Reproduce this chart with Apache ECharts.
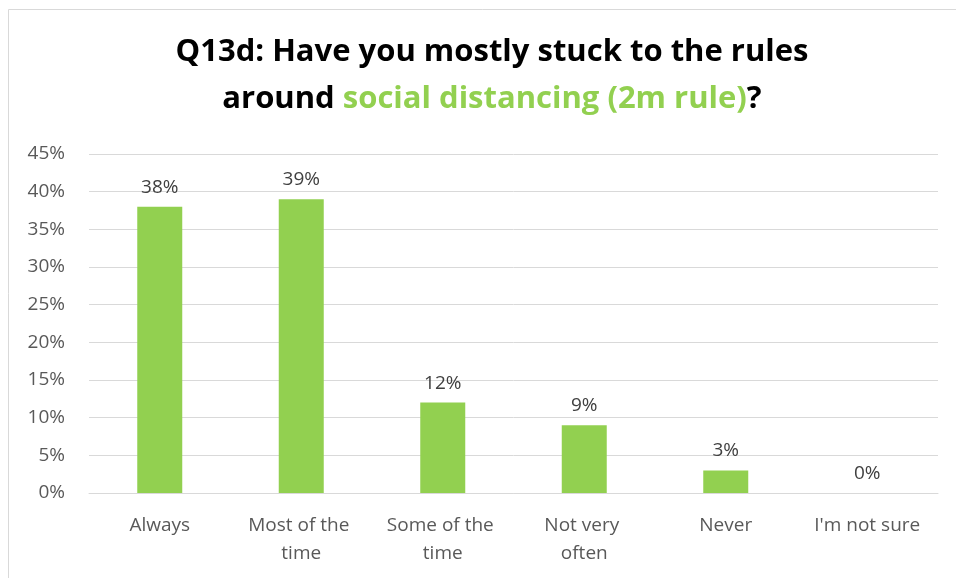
<!DOCTYPE html>
<html>
<head>
<meta charset="utf-8">
<script src="https://cdn.jsdelivr.net/npm/echarts@6/dist/echarts.min.js"></script>
<style>
  html, body { margin: 0; padding: 0; background: #fff; }
  #chart { width: 956px; height: 578px; }
</style>
</head>
<body>
<div id="chart"></div>
<script>
const categories = ['Always', 'Most of the time', 'Some of the time', 'Not very often', 'Never', "I'm not sure"]
const shares = [38, 39, 12, 9, 3, 0] // percent
const yTicks = [0, 5, 10, 15, 20, 25, 30, 35, 40, 45]

const chart = echarts.init(document.getElementById('chart'))
const font = "'Open Sans', 'Noto Sans', sans-serif"

chart.setOption({
  animation: false,
  // light frame like the exported office chart
  graphic: [
    { type: 'line', shape: { x1: 8.5, y1: 9.5, x2: 956, y2: 9.5 }, style: { stroke: '#d9d9d9', lineWidth: 1 } },
    { type: 'line', shape: { x1: 8.5, y1: 9.5, x2: 8.5, y2: 578 }, style: { stroke: '#d9d9d9', lineWidth: 1 } }
  ],
  title: {
    text: '{b|Q13d: Have you mostly stuck to the rules}\n{b|around }{g|social distancing (2m rule)}{b|?}',
    left: 487,
    top: 24,
    textAlign: 'center',
    textStyle: {
      rich: {
        b: { fontFamily: font, fontWeight: 'bold', fontSize: 31, color: '#000', lineHeight: 47 },
        g: { fontFamily: font, fontWeight: 'bold', fontSize: 31, color: '#92d050', lineHeight: 47 }
      }
    }
  },
  grid: { left: 89, right: 18, top: 154, bottom: 85 },
  xAxis: {
    type: 'category',
    data: categories,
    axisLine: { lineStyle: { color: '#d9d9d9', width: 1 } },
    axisTick: { show: false },
    axisLabel: {
      color: '#595959',
      fontFamily: font,
      fontSize: 19,
      lineHeight: 28,
      margin: 19,
      interval: 0,
      width: 124,
      overflow: 'break'
    }
  },
  yAxis: {
    type: 'value',
    min: yTicks[0],
    max: yTicks[yTicks.length - 1],
    interval: 5,
    axisLine: { show: false },
    axisTick: { show: false },
    splitLine: { lineStyle: { color: '#d9d9d9', width: 1 } },
    axisLabel: {
      color: '#595959',
      fontFamily: font,
      fontSize: 19,
      margin: 24,
      formatter: v => v + '%'
    }
  },
  series: [
    {
      type: 'bar',
      data: shares,
      barWidth: 45,
      itemStyle: { color: '#92d050' },
      label: {
        show: true,
        position: 'top',
        distance: 10,
        color: '#404040',
        fontFamily: font,
        fontSize: 19,
        formatter: p => p.value + '%'
      }
    }
  ]
})
</script>
</body>
</html>
